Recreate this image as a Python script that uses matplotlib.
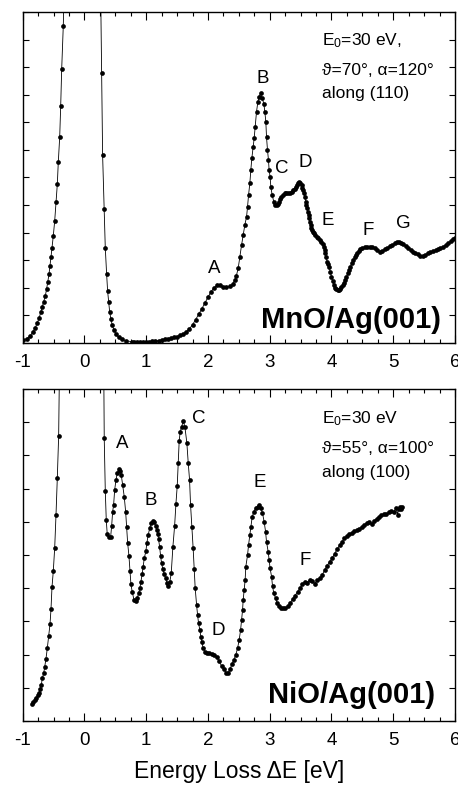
#!/usr/bin/env python3
"""EELS spectra of MnO/Ag(001) and NiO/Ag(001), two stacked panels -> out.png"""

import matplotlib

matplotlib.use("Agg")  # headless
import matplotlib.pyplot as plt
from matplotlib.ticker import MultipleLocator

# MnO/Ag(001): energy loss [eV] and intensity [arb. units]
# (points far above the frame belong to the clipped elastic peak)
mno_x = [
    -0.99, -0.935, -0.882, -0.838, -0.801, -0.769, -0.736, -0.709, -0.683, -0.660,
    -0.634, -0.612, -0.595, -0.574, -0.558, -0.542, -0.526, -0.505, -0.482, -0.461,
    -0.440, -0.424, -0.401, -0.385, -0.369, -0.343, -0.317, 0.0, 0.25,
    0.278, 0.294, 0.320, 0.337, 0.359, 0.375, 0.392, 0.408, 0.429, 0.450,
    0.477, 0.510, 0.553, 0.602, 0.671, 0.764,
    0.80, 0.85, 0.90, 0.95, 1.00, 1.05, 1.10, 1.15, 1.20, 1.25, 1.30, 1.35, 1.40,
    1.45, 1.50, 1.55, 1.60, 1.65, 1.70, 1.75, 1.80, 1.85, 1.90, 1.95, 2.00, 2.05,
    2.10, 2.15, 2.20, 2.25, 2.30, 2.35, 2.40, 2.43, 2.46, 2.49, 2.516, 2.544,
    2.57, 2.597, 2.625, 2.641, 2.657, 2.678, 2.694, 2.71, 2.731, 2.748, 2.764,
    2.786, 2.808, 2.829, 2.851, 2.877, 2.905, 2.921, 2.937, 2.948, 2.964, 2.98,
    2.99, 3.006, 3.018, 3.04, 3.066, 3.09, 3.11, 3.13, 3.152, 3.17, 3.19, 3.22,
    3.244, 3.27, 3.298, 3.325, 3.353, 3.38, 3.406, 3.425, 3.443, 3.46, 3.476,
    3.495, 3.515, 3.528, 3.54, 3.555, 3.57, 3.584, 3.595, 3.605, 3.617, 3.628,
    3.639, 3.649, 3.662, 3.676, 3.69, 3.702, 3.72, 3.741, 3.76, 3.783, 3.81,
    3.838, 3.855, 3.875, 3.89, 3.903, 3.916, 3.929, 3.945, 3.962, 3.98, 4.0,
    4.018, 4.037, 4.06, 4.081, 4.10, 4.118, 4.14, 4.162, 4.18, 4.199, 4.22,
    4.243, 4.265, 4.285, 4.307, 4.329, 4.355, 4.377, 4.40, 4.421, 4.445, 4.469,
    4.50, 4.539, 4.58, 4.62, 4.66, 4.70, 4.74, 4.78, 4.82, 4.862, 4.90, 4.943,
    4.98, 5.024, 5.06, 5.094, 5.125, 5.159, 5.20, 5.24, 5.28, 5.32, 5.36, 5.40,
    5.44, 5.483, 5.52, 5.563, 5.60, 5.644, 5.685, 5.725, 5.765, 5.806, 5.85,
    5.887, 5.93, 5.968, 6.0,
]
mno_y = [
    0.11, 0.16, 0.25, 0.39, 0.53, 0.71, 0.89, 1.11, 1.32, 1.50,
    1.71, 1.97, 2.20, 2.50, 2.80, 3.12, 3.45, 3.88, 4.43, 5.10,
    5.75, 6.55, 7.47, 8.59, 9.92, 11.5, 14.0, 80.0, 15.0,
    9.79, 6.80, 4.84, 3.45, 2.49, 1.88, 1.50, 1.13, 0.86, 0.65,
    0.47, 0.33, 0.21, 0.13, 0.08, 0.05,
    0.05, 0.04, 0.04, 0.04, 0.05, 0.05, 0.06, 0.07, 0.09, 0.11, 0.13, 0.15, 0.17,
    0.20, 0.23, 0.28, 0.34, 0.41, 0.52, 0.66, 0.85, 1.04, 1.24, 1.45, 1.66, 1.86,
    2.01, 2.09, 2.09, 2.04, 2.02, 2.05, 2.14, 2.27, 2.44, 2.72, 3.13, 3.55,
    3.91, 4.28, 4.58, 4.94, 5.36, 5.79, 6.27, 6.69, 7.11, 7.42, 7.84,
    8.38, 8.74, 8.92, 9.05, 8.87, 8.68, 8.38, 8.02, 7.47, 6.99, 6.63,
    6.27, 6.03, 5.66, 5.36, 5.12, 5.02, 5.00, 5.05, 5.12, 5.22, 5.30, 5.38,
    5.42, 5.42, 5.42, 5.45, 5.48, 5.54, 5.60, 5.66, 5.72, 5.79, 5.84,
    5.80, 5.72, 5.63, 5.54, 5.42, 5.30, 5.12, 5.00, 4.88, 4.76, 4.64,
    4.52, 4.39, 4.27, 4.16, 4.09, 4.03, 3.97, 3.91, 3.85, 3.79, 3.73,
    3.67, 3.58, 3.49, 3.37, 3.25, 3.10, 2.95, 2.86, 2.77, 2.58, 2.40,
    2.25, 2.10, 2.01, 1.95, 1.92, 1.92, 1.96, 2.02, 2.10, 2.18, 2.29,
    2.40, 2.52, 2.64, 2.77, 2.89, 3.00, 3.10, 3.19, 3.27, 3.34, 3.39,
    3.43, 3.47, 3.49, 3.49, 3.47, 3.43, 3.37, 3.31, 3.34, 3.39, 3.45, 3.51,
    3.56, 3.61, 3.65, 3.67, 3.63, 3.59, 3.51, 3.43, 3.37, 3.31, 3.26, 3.21,
    3.17, 3.15, 3.20, 3.25, 3.30, 3.34, 3.37, 3.39, 3.44, 3.49, 3.55,
    3.61, 3.68, 3.76, 3.82,
]

# NiO/Ag(001)
nio_x = [
    -0.845, -0.828, -0.801, -0.780, -0.757, -0.736, -0.720, -0.699, -0.683, -0.660,
    -0.644, -0.623, -0.602, -0.579, -0.558, -0.542, -0.526, -0.505, -0.482, -0.461,
    -0.440, -0.418, -0.39, 0.0, 0.30,
    0.320, 0.337, 0.353, 0.369, 0.396, 0.424, 0.440, 0.456, 0.472, 0.489, 0.510,
    0.531, 0.553, 0.574, 0.596, 0.618, 0.644, 0.667, 0.683, 0.699, 0.720, 0.736,
    0.752, 0.773, 0.801, 0.828, 0.854, 0.877, 0.898, 0.914, 0.935, 0.951, 0.968,
    0.995, 1.011, 1.032, 1.055, 1.076, 1.104, 1.129, 1.152, 1.173, 1.189, 1.20,
    1.217, 1.233, 1.249, 1.27, 1.291, 1.314, 1.335, 1.356, 1.383, 1.405, 1.432,
    1.46, 1.481, 1.502, 1.518, 1.534, 1.55, 1.573, 1.60, 1.626, 1.658, 1.68,
    1.702, 1.718, 1.739, 1.76, 1.777, 1.793, 1.816, 1.832, 1.848, 1.869, 1.885,
    1.901, 1.922, 1.95, 1.987, 2.02, 2.06, 2.10, 2.14, 2.18, 2.22, 2.26, 2.30,
    2.33, 2.36, 2.39, 2.42, 2.45, 2.48, 2.505, 2.528, 2.544, 2.56, 2.57, 2.586,
    2.602, 2.613, 2.641, 2.657, 2.678, 2.694, 2.716, 2.743, 2.77, 2.803, 2.829,
    2.856, 2.883, 2.91, 2.933, 2.948, 2.975, 2.99, 3.006, 3.03, 3.045, 3.066,
    3.094, 3.12, 3.152, 3.19, 3.22, 3.25, 3.29, 3.33, 3.37, 3.41, 3.45, 3.49,
    3.53, 3.57, 3.61, 3.65, 3.69, 3.73, 3.77, 3.81, 3.85, 3.89, 3.93, 3.97,
    4.01, 4.05, 4.09, 4.13, 4.17, 4.21, 4.25, 4.29, 4.33, 4.37, 4.41, 4.45,
    4.49, 4.53, 4.57, 4.61, 4.65, 4.69, 4.73, 4.77, 4.81, 4.85, 4.89, 4.93,
    4.97, 5.01, 5.05, 5.07, 5.09, 5.11, 5.13, 5.15,
]
nio_y = [
    0.50, 0.56, 0.63, 0.70, 0.77, 0.85, 0.95, 1.08, 1.29, 1.44,
    1.64, 1.88, 2.19, 2.56, 2.92, 3.37, 4.03, 4.51, 5.22, 6.21,
    7.31, 8.59, 13.0, 80.0, 14.0,
    8.53, 6.94, 6.05, 5.62, 5.53, 5.55, 5.87, 6.30, 6.51, 6.96, 7.26,
    7.46, 7.58, 7.54, 7.41, 7.11, 6.76, 6.30, 5.83, 5.37, 4.98, 4.53,
    4.13, 3.89, 3.66, 3.61, 3.70, 3.85, 4.00, 4.20, 4.43, 4.65, 4.90,
    5.12, 5.37, 5.60, 5.80, 5.95, 6.03, 6.00, 5.87, 5.75, 5.63, 5.47,
    5.25, 4.97, 4.75, 4.57, 4.43, 4.30, 4.15, 4.08, 4.20, 4.45, 5.25,
    5.88, 6.54, 7.08, 7.76, 8.44, 8.71, 8.86, 9.04, 8.86, 8.38, 7.78,
    7.26, 6.51, 5.85, 5.20, 4.57, 4.00, 3.49, 3.19, 2.94, 2.74, 2.54,
    2.39, 2.19, 2.09, 2.04, 2.04, 2.03, 2.00, 1.93, 1.80, 1.66, 1.56, 1.44,
    1.46, 1.58, 1.72, 1.85, 1.99, 2.20, 2.44, 2.74, 3.04, 3.34, 3.64, 3.95,
    4.25, 4.65, 5.00, 5.30, 5.60, 5.85, 6.15, 6.30, 6.41, 6.45, 6.51,
    6.41, 6.26, 6.00, 5.70, 5.40, 5.10, 4.85, 4.60, 4.35, 4.07, 3.85,
    3.70, 3.55, 3.46, 3.41, 3.39, 3.40, 3.45, 3.55, 3.67, 3.78, 3.89, 4.00,
    4.12, 4.20, 4.17, 4.26, 4.21, 4.14, 4.25, 4.30, 4.40, 4.55, 4.68, 4.80,
    4.90, 5.04, 5.17, 5.29, 5.40, 5.50, 5.57, 5.62, 5.67, 5.72, 5.74, 5.79,
    5.84, 5.90, 5.97, 5.99, 5.93, 6.03, 6.10, 6.16, 6.20, 6.24, 6.23, 6.29,
    6.33, 6.31, 6.42, 6.22, 6.40, 6.46, 6.38, 6.45,
]

mno_peaks = ["A", "B", "C", "D", "E", "F", "G"]
mno_peak_x = [2.10, 2.88, 3.20, 3.58, 3.945, 4.60, 5.16]
mno_peak_y = [2.53, 9.41, 6.15, 6.39, 4.28, 3.91, 4.16]

nio_peaks = ["A", "B", "C", "D", "E", "F"]
nio_peak_x = [0.615, 1.073, 1.856, 2.171, 2.84, 3.58]
nio_peak_y = [8.21, 6.51, 8.97, 2.59, 7.06, 4.70]

mno_info = ["E$_0$=30 eV,", "\u03d1=70\u00b0, \u03b1=120\u00b0", "along (110)"]
nio_info = ["E$_0$=30 eV", "\u03d1=55\u00b0, \u03b1=100\u00b0", "along (100)"]

FONT = ["Liberation Sans", "DejaVu Sans"]
plt.rcParams["font.family"] = FONT
plt.rcParams["mathtext.fontset"] = "custom"
plt.rcParams["mathtext.rm"] = "Liberation Sans"
plt.rcParams["mathtext.it"] = "Liberation Sans:italic"
plt.rcParams["axes.unicode_minus"] = False  # plain hyphen in "-1"


def draw_panel(ax, xs, ys, ymax, peaks, px, py, info, info_y, sample, sample_y):
    ax.plot(xs, ys, color="black", linewidth=0.6, marker="o",
            markersize=3.4, markeredgewidth=0, clip_on=True)
    ax.set_xlim(-1, 6)
    ax.set_ylim(0, ymax)
    ax.xaxis.set_major_locator(MultipleLocator(1))
    ax.xaxis.set_minor_locator(MultipleLocator(0.25))
    ax.yaxis.set_major_locator(MultipleLocator(1))
    ax.set_yticklabels([])
    ax.tick_params(axis="x", which="both", direction="in", top=True,
                   labelsize=13.5, pad=8)
    ax.tick_params(axis="x", which="major", length=6, width=0.8)
    ax.tick_params(axis="x", which="minor", length=3, width=0.8)
    ax.tick_params(axis="y", which="major", direction="in", right=True,
                   length=4, width=0.8)
    for sp in ax.spines.values():
        sp.set_linewidth(1.0)

    for lab, x, y in zip(peaks, px, py):
        ax.text(x, y, lab, fontsize=13.5, ha="center", va="baseline")
    for line, y in zip(info, info_y):
        ax.text(3.84, y, line, fontsize=12.5, ha="left", va="baseline")
    ax.text(sample[1], sample_y, sample[0], fontsize=21, fontweight="bold",
            ha="right", va="baseline")


fig = plt.figure(figsize=(4.58, 7.88), dpi=100)
ax1 = fig.add_axes([0.0496, 0.5647, 0.9438, 0.4201])
ax2 = fig.add_axes([0.0496, 0.0850, 0.9438, 0.4213])

draw_panel(ax1, mno_x, mno_y, 12, mno_peaks, mno_peak_x, mno_peak_y,
           mno_info, [10.80, 9.71, 8.88], ("MnO/Ag(001)", 5.78), 0.53)
draw_panel(ax2, nio_x, nio_y, 10, nio_peaks, nio_peak_x, nio_peak_y,
           nio_info, [8.97, 8.06, 7.36], ("NiO/Ag(001)", 5.68), 0.55)

ax2.set_xlabel("Energy Loss \u0394E [eV]", fontsize=16.5, labelpad=8)

fig.savefig("out.png", dpi=100)
